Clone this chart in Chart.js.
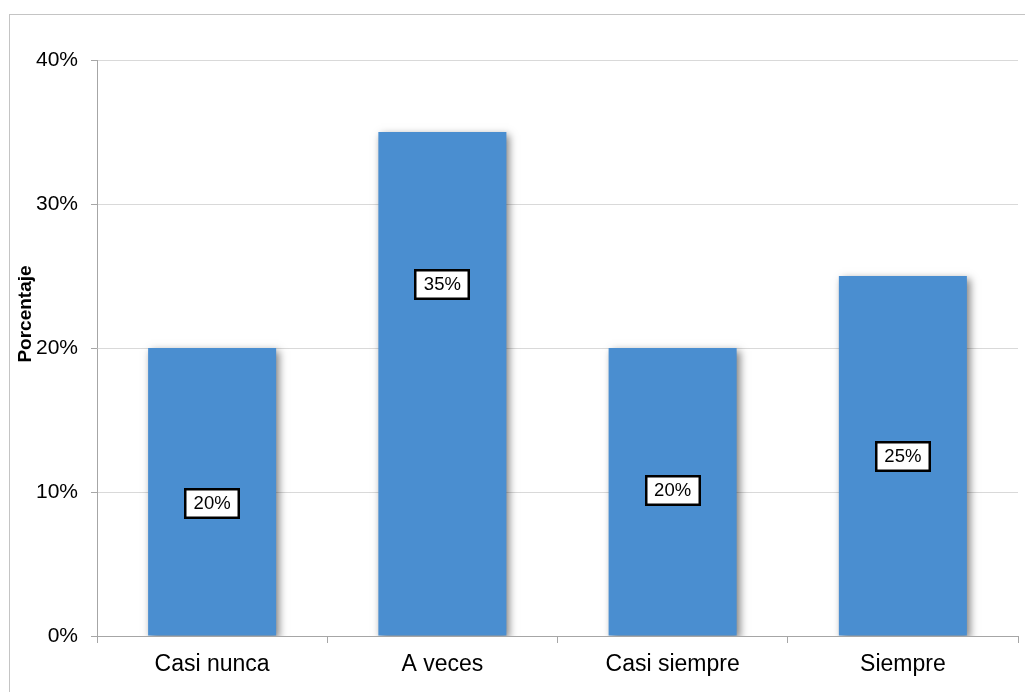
<!DOCTYPE html>
<html>
<head>
<meta charset="utf-8">
<script src="https://cdn.jsdelivr.net/npm/chart.js@4/dist/chart.umd.min.js"></script>
<style>
  html, body { margin: 0; padding: 0; background: #fff; }
  #wrap { width: 1025px; height: 692px; position: relative; }
</style>
</head>
<body>
<div id="wrap"><canvas id="c" width="1025" height="692"></canvas></div>
<script>
// Survey answers and their share of respondents (%)
const categories = ['Casi nunca', 'A veces', 'Casi siempre', 'Siempre'];
const percentages = [20, 35, 20, 25];
const yTicks = [0, 10, 20, 30, 40];
const axisTitle = 'Porcentaje';

const FONT = '"Liberation Sans", Arial, sans-serif';
const BAR_COLOR = '#4a8ed0';

// Vertical nudge (px) of each value box relative to the middle of its bar
const labelNudge = [11, -100, -2, 0];

// Frame around the whole chart
const framePlugin = {
  id: 'frame',
  beforeDraw(chart) {
    const ctx = chart.ctx;
    ctx.save();
    ctx.fillStyle = '#fff';
    ctx.fillRect(0, 0, chart.width, chart.height);
    ctx.strokeStyle = '#c4c4c4';
    ctx.lineWidth = 1;
    ctx.strokeRect(9.5, 14.5, chart.width + 20, chart.height + 20);
    ctx.restore();
  }
};

// Soft drop shadow under the bars
const shadowPlugin = {
  id: 'barShadow',
  beforeDatasetsDraw(chart) {
    const ctx = chart.ctx;
    ctx.save();
    ctx.shadowColor = 'rgba(0,0,0,0.5)';
    ctx.shadowBlur = 8;
    ctx.shadowOffsetX = 3;
    ctx.shadowOffsetY = 3;
  },
  afterDatasetsDraw(chart) {
    chart.ctx.restore();
  }
};

// Boxed value labels and the rotated axis title
const labelPlugin = {
  id: 'valueBoxes',
  afterDatasetsDraw(chart) {
    const ctx = chart.ctx;
    const meta = chart.getDatasetMeta(0);
    const yScale = chart.scales.y;
    ctx.save();
    ctx.font = '18.5px ' + FONT;
    ctx.textAlign = 'center';
    ctx.textBaseline = 'middle';
    meta.data.forEach((bar, i) => {
      const v = percentages[i];
      const text = v + '%';
      const mid = (yScale.getPixelForValue(v) + yScale.getPixelForValue(0)) / 2 + labelNudge[i];
      const w = 56;
      const h = 31;
      const x0 = Math.round(bar.x - w / 2);
      const y0 = Math.round(mid - h / 2);
      ctx.fillStyle = '#fff';
      ctx.fillRect(x0, y0, w, h);
      ctx.strokeStyle = '#000';
      ctx.lineWidth = 2.5;
      ctx.strokeRect(x0 + 1.25, y0 + 1.25, w - 2.5, h - 2.5);
      ctx.fillStyle = '#000';
      ctx.fillText(text, bar.x, mid + 1);
    });
    ctx.restore();

    // y-axis title
    ctx.save();
    ctx.font = 'bold 19px ' + FONT;
    ctx.fillStyle = '#000';
    ctx.textAlign = 'center';
    ctx.textBaseline = 'middle';
    ctx.translate(26, 314);
    ctx.rotate(-Math.PI / 2);
    ctx.fillText(axisTitle, 0, 0);
    ctx.restore();
  }
};

new Chart(document.getElementById('c'), {
  type: 'bar',
  data: {
    labels: categories,
    datasets: [{
      data: percentages,
      backgroundColor: BAR_COLOR,
      borderWidth: 0,
      categoryPercentage: 0.556,
      barPercentage: 1.0
    }]
  },
  options: {
    responsive: false,
    animation: false,
    events: [],
    layout: { padding: { top: 60, right: 7, left: 0, bottom: 0 } },
    plugins: {
      legend: { display: false },
      tooltip: { enabled: false }
    },
    scales: {
      x: {
        offset: true,
        grid: {
          offset: true,
          drawOnChartArea: false,
          drawTicks: true,
          tickLength: 7,
          tickColor: '#a6a6a6'
        },
        border: { color: '#a6a6a6', width: 1 },
        ticks: {
          color: '#000',
          padding: 8,
          font: { family: FONT, size: 23 }
        },
        afterFit(scale) { scale.height = 56; }
      },
      y: {
        min: 0,
        max: 40,
        afterBuildTicks(scale) {
          scale.ticks = yTicks.map(v => ({ value: v }));
        },
        grid: {
          color: '#d9d9d9',
          drawTicks: true,
          tickLength: 6,
          tickColor: '#a6a6a6'
        },
        border: { color: '#a6a6a6', width: 1 },
        ticks: {
          color: '#000',
          padding: 13,
          font: { family: FONT, size: 21 },
          callback: v => v + '%'
        },
        afterFit(scale) { scale.width = 97; }
      }
    }
  },
  plugins: [framePlugin, shadowPlugin, labelPlugin]
});
</script>
</body>
</html>
